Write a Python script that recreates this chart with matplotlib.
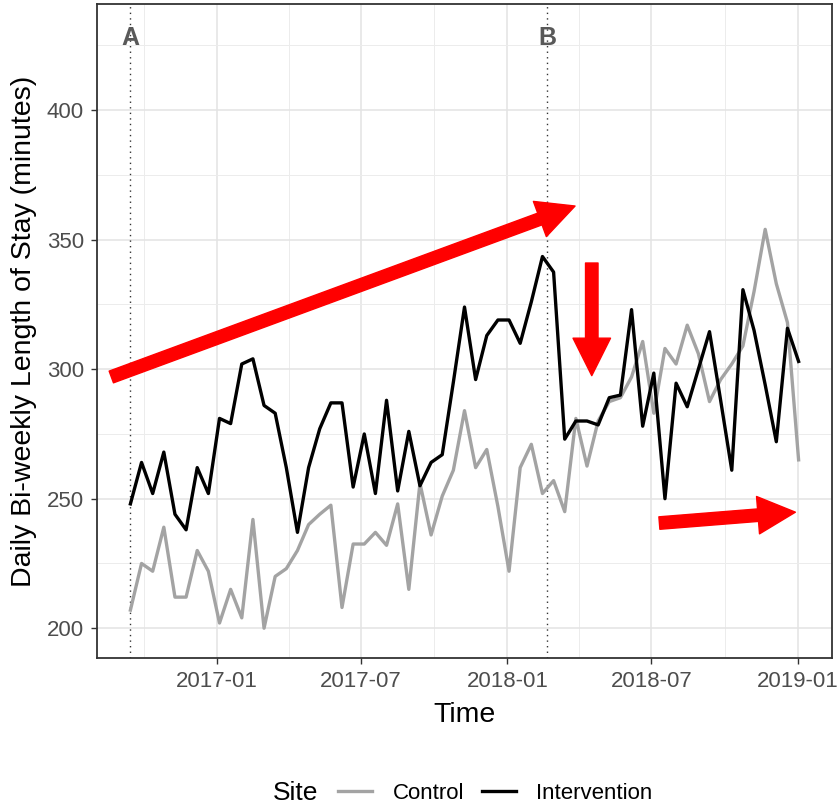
import numpy as np
import pandas as pd
import matplotlib
matplotlib.use('Agg')
import matplotlib.pyplot as plt
import matplotlib.dates as mdates
from matplotlib.lines import Line2D

plt.rcParams['font.family'] = ['Liberation Sans', 'DejaVu Sans']

## data (bi-weekly)
start_date = '2016-09-14'
n_points = 61

intervention = [248, 264, 252, 268, 244, 238, 262, 252, 281, 279,
                302, 304, 286, 283, 262, 237, 262, 277, 287, 287,
                254.5, 275, 252, 288, 253, 276, 255, 264, 267, 295,
                324, 296, 313, 319, 319, 310, 326, 343.5, 337.5, 273,
                280, 280, 278.5, 289, 290, 323, 278, 298.5, 250, 294.6,
                285.5, 300, 314.5, 288, 261, 330.7, 315, 294, 272, 315.8, 303]

control = [207, 225, 222, 239, 212, 212, 230, 222, 202, 215,
           204, 242, 200, 220, 223, 230, 240, 244, 247.5, 208,
           232.5, 232.5, 237, 232, 248, 215, 256, 236, 251, 261,
           284, 262, 269, 247, 222, 262, 271, 252, 257, 245,
           281, 262.6, 280, 287.5, 289, 297, 310.7, 283, 308, 302,
           317, 306, 287.5, 296, 302, 309, 330, 354, 333, 318, 265]

phase_dates = ['2016-09-14', '2018-02-20']
phase_labels = ['A', 'B']
phase_label_y = 428

# arrows: (tail date, tail value, tip date, tip value)
arrows = [('2016-08-21', 297, '2018-03-27', 363),
          ('2018-04-17', 341, '2018-04-17', 297.5),
          ('2018-07-11', 240.6, '2018-12-29', 244.8)]

tick_dates = ['2017-01-01', '2017-07-01', '2018-01-01', '2018-07-01', '2019-01-01']
tick_labels = ['2017-01', '2017-07', '2018-01', '2018-07', '2019-01']
minor_dates = ['2016-10-01', '2017-04-01', '2017-10-01', '2018-04-01', '2018-10-01']

dates = pd.date_range(start_date, periods=n_points, freq='14D')

fig = plt.figure(figsize=(8.4, 8.05), dpi=100)
ax = fig.add_axes([97/840, 1 - 658/805, 735/840, 654/805])

ax.plot(dates, control, color='#a3a3a3', lw=2.4, zorder=3)
ax.plot(dates, intervention, color='black', lw=2.4, zorder=4)

for d, lab in zip(phase_dates, phase_labels):
    ax.axvline(pd.Timestamp(d), color='#333333', ls=(0, (1, 3)), lw=1.0, zorder=2)
    ax.text(pd.Timestamp(d), phase_label_y, lab, ha='center', va='center',
            fontsize=18, fontweight='bold', color='#595959', zorder=5)

for t0, v0, t1, v1 in arrows:
    ax.annotate('', xy=(mdates.date2num(pd.Timestamp(t1)), v1),
                xytext=(mdates.date2num(pd.Timestamp(t0)), v0),
                arrowprops=dict(facecolor='red', edgecolor='red', width=9,
                                headwidth=27, headlength=27, shrink=0),
                annotation_clip=False, zorder=6)

ax.set_xlim(pd.Timestamp(start_date) - pd.Timedelta(days=42),
            dates[-1] + pd.Timedelta(days=42))
ax.set_ylim(188.5, 441)

ax.set_xticks([pd.Timestamp(d) for d in tick_dates])
ax.set_xticklabels(tick_labels)
ax.set_xticks([pd.Timestamp(d) for d in minor_dates], minor=True)
ax.set_yticks([200, 250, 300, 350, 400])
ax.set_yticks([225, 275, 325, 375, 425], minor=True)

ax.grid(which='major', color='#e3e3e3', lw=1.1, zorder=0)
ax.grid(which='minor', color='#ececec', lw=0.7, zorder=0)
ax.set_axisbelow(True)

ax.tick_params(which='major', length=4.5, width=1, color='#333333',
               labelsize=16, labelcolor='#4d4d4d', pad=5)
ax.tick_params(which='minor', length=0)
for s in ax.spines.values():
    s.set_color('#333333')
    s.set_linewidth(1.3)

ax.set_xlabel('Time', fontsize=20.5, labelpad=7)
ax.set_ylabel('Daily Bi-weekly Length of Stay (minutes)', fontsize=20.5, labelpad=7)

## legend at the bottom
fig.text(273/840, 1 - 793/805, 'Site', fontsize=19, ha='left', va='center')
handles = [Line2D([], [], color='#a3a3a3', lw=2.4),
           Line2D([], [], color='black', lw=2.4)]
fig.legend(handles, ['Control', 'Intervention'], loc='center left',
           bbox_to_anchor=(338/840, 1 - 793/805), ncol=2, frameon=False,
           fontsize=16, handlelength=1.55, handletextpad=0.9,
           columnspacing=0.8, borderpad=0, borderaxespad=0)

plt.savefig('out.png', dpi=100)
